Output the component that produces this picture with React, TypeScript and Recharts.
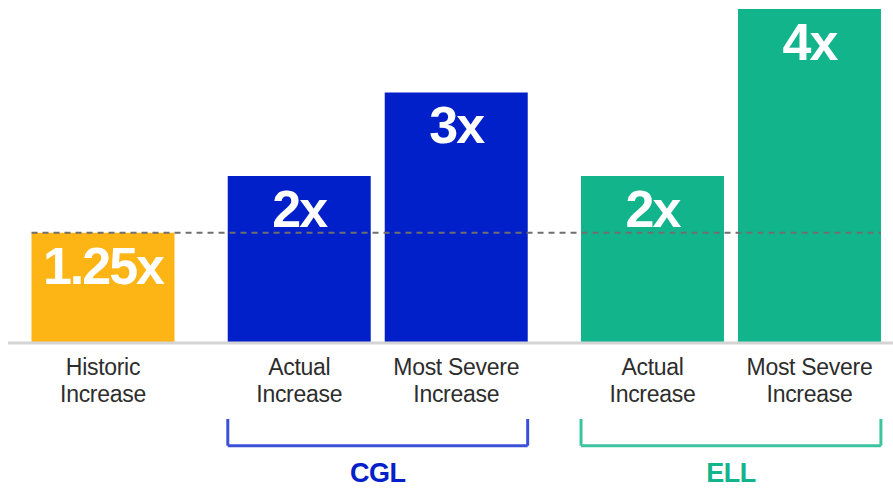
import React from 'react';
import { BarChart, Bar, XAxis, YAxis, Cell, LabelList, ReferenceLine } from 'recharts';

// Bars, left to right
const categories = ['Historic Increase', 'Actual Increase', 'Most Severe Increase', 'Actual Increase', 'Most Severe Increase'];
const groups = ['Historic', 'CGL', 'CGL', 'ELL', 'ELL'];
const slots = [0, 1.25, 2.25, 3.5, 4.5];
const heights = [1.32, 2, 3, 2, 4]; // bar heights as drawn
const valueLabels = ['1.25x', '2x', '3x', '2x', '4x'];

// Brackets under the paired bars
const bracketNames = ['CGL', 'ELL'];
const bracketFrom = [1.25, 3.5];
const bracketTo = [2.25, 4.5];

const COLORS: Record<string, string> = {
    Historic: '#FDB515',
    CGL: '#0220C9',
    ELL: '#12B48C',
};
const BRACKET_COLORS: Record<string, string> = {
    CGL: '#3B50D6',
    ELL: '#3CC49F',
};

const FONT = '"Liberation Sans", Arial, Helvetica, sans-serif';
const HALF_BAR = 0.455; // half a bar, in slot units
const BRACKET_TOP = -0.91;
const BRACKET_BOTTOM = -1.23;

const data = categories.map((c, i) => ({
    name: c,
    group: groups[i],
    pos: slots[i],
    value: heights[i],
    label: valueLabels[i],
}));

const CategoryTick = (props: any) => {
    const { x, y, index } = props;
    const text: string = categories[index] ?? '';
    const cut = text.lastIndexOf(' ');
    const lines = [text.slice(0, cut), text.slice(cut + 1)];
    return (
        <text x={x} textAnchor="middle" fill="#2d2d2d" fontSize={23} fontFamily={FONT} letterSpacing={-0.3}>
            {lines.map((l, i) => (
                <tspan key={i} x={x} y={y + 32 + i * 27}>
                    {l}
                </tspan>
            ))}
        </text>
    );
};

export default function App() {
    return (
        <div style={{ position: 'absolute', left: 0, top: 0, width: 893, height: 490, background: '#fff' }}>
            <BarChart width={893} height={490} data={data} margin={{ top: 9, right: 0, bottom: 0, left: 8 }}>
                <XAxis
                    type="number"
                    dataKey="pos"
                    domain={[-0.605, 5.032]}
                    allowDataOverflow
                    ticks={slots}
                    interval={0}
                    height={147}
                    tickSize={0}
                    tickMargin={0}
                    tickLine={false}
                    axisLine={{ stroke: '#d4d4d4', strokeWidth: 3 }}
                    tick={<CategoryTick />}
                />
                <YAxis hide domain={[0, 4]} />
                <Bar dataKey="value" barSize={143} isAnimationActive={false}>
                    {data.map((d, i) => (
                        <Cell key={`cell-${i}`} fill={COLORS[d.group]} />
                    ))}
                    <LabelList
                        dataKey="label"
                        position="insideTop"
                        offset={14}
                        fill="#fff"
                        fontSize={52}
                        fontWeight={700}
                        fontFamily={FONT}
                        letterSpacing={-2}
                    />
                </Bar>
                <ReferenceLine
                    segment={[
                        { x: slots[0] - HALF_BAR, y: heights[0] },
                        { x: slots[4] + HALF_BAR, y: heights[0] },
                    ]}
                    stroke="#6f6f6f"
                    strokeWidth={2}
                    strokeDasharray="6 5"
                    ifOverflow="visible"
                />
                {bracketNames.map((name, i) => {
                    const left = bracketFrom[i] - HALF_BAR;
                    const right = bracketTo[i] + HALF_BAR;
                    const stroke = BRACKET_COLORS[name];
                    return (
                        <React.Fragment key={name}>
                            <ReferenceLine
                                segment={[{ x: left, y: BRACKET_TOP }, { x: left, y: BRACKET_BOTTOM }]}
                                stroke={stroke}
                                strokeWidth={3}
                                ifOverflow="visible"
                            />
                            <ReferenceLine
                                segment={[{ x: right, y: BRACKET_TOP }, { x: right, y: BRACKET_BOTTOM }]}
                                stroke={stroke}
                                strokeWidth={3}
                                ifOverflow="visible"
                            />
                            <ReferenceLine
                                segment={[{ x: left, y: BRACKET_BOTTOM }, { x: right, y: BRACKET_BOTTOM }]}
                                stroke={stroke}
                                strokeWidth={3}
                                ifOverflow="visible"
                                label={{
                                    value: name,
                                    position: 'bottom',
                                    offset: 17,
                                    fill: COLORS[name],
                                    fontSize: 27,
                                    fontWeight: 700,
                                    fontFamily: FONT,
                                    letterSpacing: -0.5,
                                }}
                            />
                        </React.Fragment>
                    );
                })}
            </BarChart>
        </div>
    );
}
